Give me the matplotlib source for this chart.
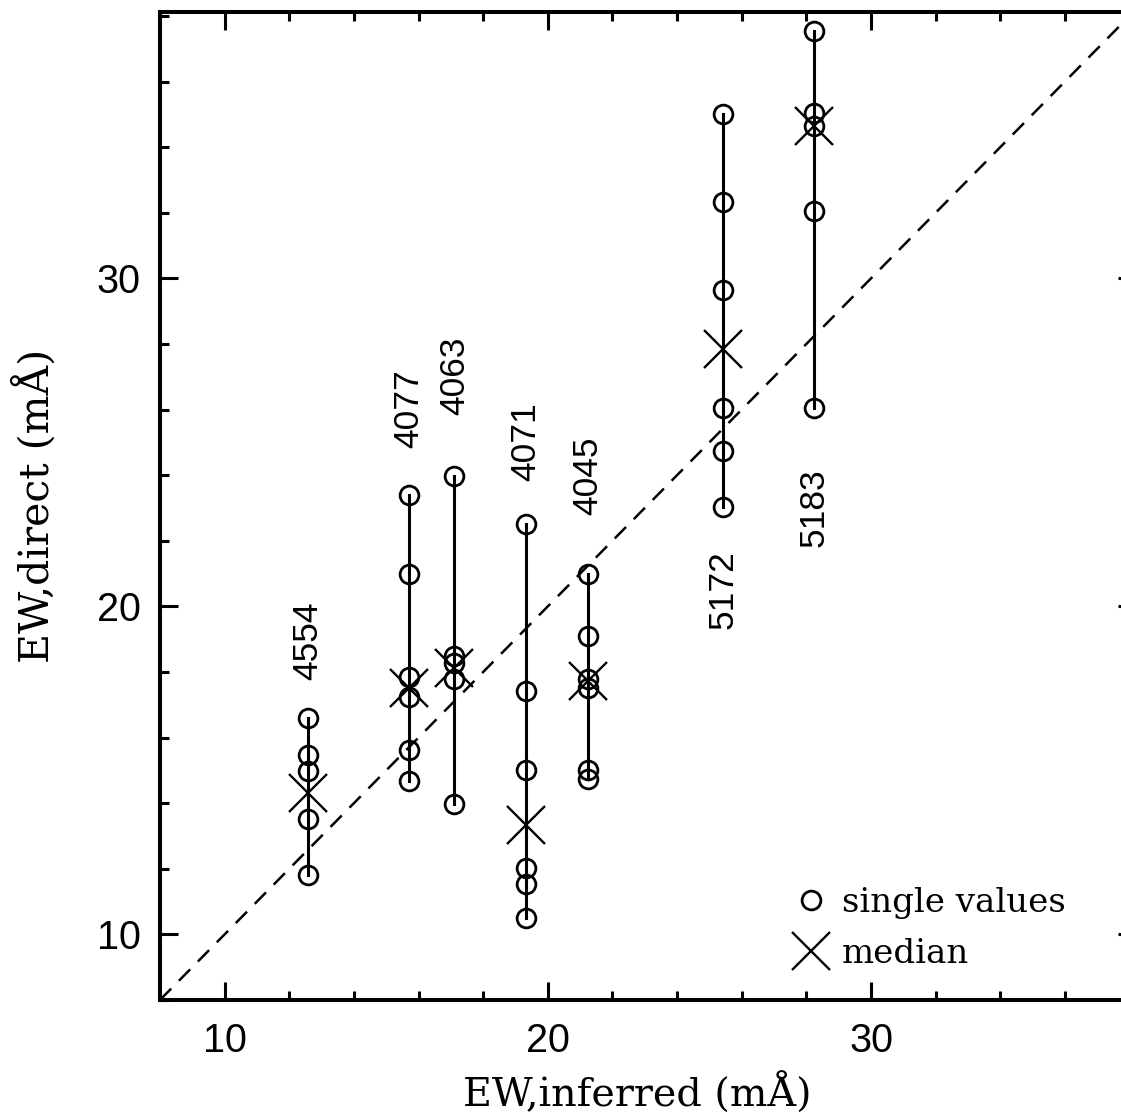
import matplotlib
matplotlib.use('Agg')
import matplotlib.pyplot as plt
from matplotlib.ticker import MultipleLocator
from matplotlib.lines import Line2D

# ---------------- data ----------------
line_names = ['4554', '4077', '4063', '4071', '4045', '5172', '5183']
ew_inferred = [12.58, 15.71, 17.11, 19.31, 21.23, 25.42, 28.24]

ew_4554 = [16.61, 15.47, 14.99, 13.52, 11.80]
ew_4077 = [23.40, 21.00, 17.84, 17.24, 15.61, 14.68]
ew_4063 = [23.99, 18.49, 18.28, 17.79, 13.98]
ew_4071 = [22.52, 17.41, 15.01, 12.02, 11.53, 10.49]
ew_4045 = [21.00, 19.09, 17.79, 17.52, 15.01, 14.74]
ew_5172 = [35.01, 32.32, 29.66, 26.06, 24.73, 23.04]
ew_5183 = [37.55, 35.05, 34.64, 32.05, 26.06]
single_values = [ew_4554, ew_4077, ew_4063, ew_4071, ew_4045, ew_5172, ew_5183]

medians = [14.30, 17.52, 18.11, 13.32, 17.73, 27.86, 34.64]

# vertical position (data units) of the rotated line labels
label_y = [18.96, 26.04, 27.04, 25.03, 23.99, 20.51, 23.02]

# ---------------- figure ----------------
plt.rcParams['font.family'] = ['Liberation Sans', 'DejaVu Sans']
fig = plt.figure(figsize=(11.21, 11.18), dpi=100)
ax = fig.add_axes([0.1427, 0.10555, 0.8707, 0.8837])
ax.set_xlim(8.0, 38.2)
ax.set_ylim(8.0, 38.12)

# one-to-one line
ax.plot([8.0, 38.2], [8.0, 38.2], color='black', lw=1.8,
        ls=(0, (6.4, 4.4)), zorder=1)

for x, vals, med, name, ly in zip(ew_inferred, single_values, medians,
                                  line_names, label_y):
    ax.plot([x, x], [min(vals), max(vals)], color='black', lw=2.2, zorder=2)
    ax.plot([x] * len(vals), vals, linestyle='none', marker='o',
            mfc='none', mec='black', ms=13.5, mew=2.0, zorder=3)
    ax.plot([x], [med], linestyle='none', marker='x', color='black',
            ms=28, mew=1.7, zorder=4)
    ax.text(x, ly, name, rotation=90, ha='center', va='center',
            fontsize=25.5, family='Liberation Sans')

# axes styling
for sp in ax.spines.values():
    sp.set_linewidth(2.9)
ax.xaxis.set_major_locator(MultipleLocator(10))
ax.xaxis.set_minor_locator(MultipleLocator(2))
ax.yaxis.set_major_locator(MultipleLocator(10))
ax.yaxis.set_minor_locator(MultipleLocator(2))
ax.tick_params(which='both', direction='in', top=True, right=True,
               width=2.2, labelsize=28.5)
ax.tick_params(which='major', length=13)
ax.tick_params(which='minor', length=6.5)
ax.tick_params(axis='x', pad=16)
ax.tick_params(axis='y', pad=14)

serif = ['DejaVu Serif']
ax.set_xlabel('EW,inferred (mÅ)', fontsize=28.5, family=serif)
ax.set_ylabel('EW,direct (mÅ)', fontsize=29.5, family=serif)
ax.xaxis.set_label_coords(0.489, -0.074)
ax.yaxis.set_label_coords(-0.1045, 0.5)

handles = [
    Line2D([], [], linestyle='none', marker='o', mfc='none', mec='black',
           ms=13.5, mew=2.0),
    Line2D([], [], linestyle='none', marker='x', color='black',
           ms=28, mew=1.7),
]
ax.legend(handles, ['single values', 'median'], loc='upper left',
          bbox_to_anchor=(0.6496, 0.1144), frameon=False, borderpad=0,
          handlelength=1.0, handletextpad=0.4, labelspacing=0.56,
          borderaxespad=0, prop={'family': serif, 'size': 24.5})

fig.savefig('out.png', dpi=100)
